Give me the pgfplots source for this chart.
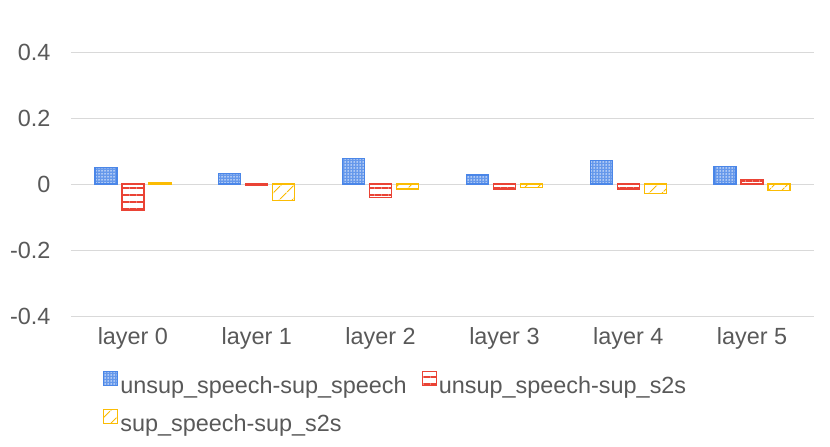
\documentclass[border=0pt]{standalone}
\usepackage{fontspec}
\setmainfont{Liberation Sans}
\usepackage{pgfplots}
\pgfplotsset{compat=1.18}
\usetikzlibrary{patterns,patterns.meta}
\definecolor{cblue}{HTML}{4A86E8}
\definecolor{cred}{HTML}{EA4335}
\definecolor{cyel}{HTML}{FBBC04}
\definecolor{ctext}{HTML}{595959}
\definecolor{cgrid}{HTML}{D9D9D9}
\begin{document}
\begin{tikzpicture}
\path[use as bounding box] (-71bp,-131bp) rectangle (759bp,316bp);
\begin{axis}[
  at={(0,0)}, anchor=south west, scale only axis,
  width=743bp, height=264bp,
  xmin=-0.5, xmax=5.5, ymin=-0.4, ymax=0.4,
  ybar=5bp, bar width=22bp,
  xtick={0,1,2,3,4,5},
  xticklabels={layer 0,layer 1,layer 2,layer 3,layer 4,layer 5},
  ytick={-0.4,-0.2,0,0.2,0.4},
  yticklabels={-0.4,-0.2,0,0.2,0.4},
  /pgf/number format/assume math mode=true,
  axis line style={draw=none}, major tick length=0pt,
  ymajorgrids, grid style={cgrid, line width=1bp},
  tick label style={font=\fontsize{23.5}{28}\selectfont, text=ctext},
  yticklabel style={xshift=-17bp},
  xticklabel style={yshift=-8bp},
  legend columns=2,
  legend cell align=left,
  legend style={draw=none, fill=none, at={(0,0)}, anchor=north west,
    xshift=29bp, yshift=-53bp,
    font=\fontsize{23.5}{28}\selectfont, text=ctext,
    row sep=12bp,
    /tikz/every even column/.append style={column sep=13bp}},
  legend image code/.code={\draw[#1, line width=1.2bp] (0bp,0bp) rectangle (14bp,14bp);},
]
\addplot[draw=cblue, line width=1.2bp, fill=cblue!85,
  postaction={pattern={Dots[distance=3bp,radius=0.75bp]}, pattern color=white}]
  coordinates {(0,0.050) (1,0.033) (2,0.078) (3,0.027) (4,0.072) (5,0.054)};
\addplot[draw=cred, line width=1.2bp, fill=white,
  postaction={pattern={Lines[angle=0,distance=7bp,line width=1.3bp]}, pattern color=cred}]
  coordinates {(0,-0.079) (1,-0.003) (2,-0.040) (3,-0.015) (4,-0.015) (5,0.014)};
\addplot[draw=cyel, line width=1.2bp, fill=white,
  postaction={pattern={Lines[angle=45,distance=10bp,line width=1.2bp]}, pattern color=cyel}]
  coordinates {(0,0.005) (1,-0.050) (2,-0.015) (3,-0.010) (4,-0.028) (5,-0.020)};
\legend{unsup\_speech-sup\_speech,unsup\_speech-sup\_s2s,sup\_speech-sup\_s2s}
\end{axis}
\end{tikzpicture}
\end{document}
